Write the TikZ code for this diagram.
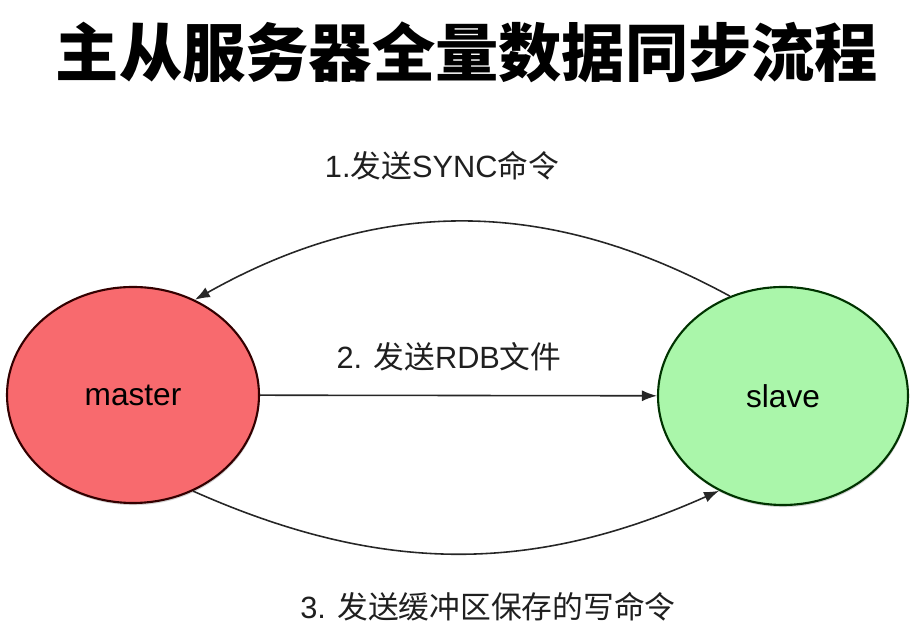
\documentclass[tikz,border=0pt]{standalone}
\usepackage{fontspec}
\setmainfont{Liberation Sans}
\newfontfamily\cjk{Noto Sans CJK SC}
\usetikzlibrary{arrows.meta, shapes.geometric, shadows}
\newcommand{\zh}[1]{{\cjk #1}}
\definecolor{masterred}{RGB}{248,106,110}
\definecolor{slavegreen}{RGB}{170,246,170}

\begin{document}
\begin{tikzpicture}
\useasboundingbox (0,0) rectangle (18.24,12.68);
\tikzset{server/.style={ellipse, draw, line width=1.2pt, inner sep=0pt,
    drop shadow={shadow xshift=0.4pt, shadow yshift=-1.2pt, opacity=0.35},
    font=\fontsize{18}{20}\selectfont},
  flow/.style={line width=0.9pt, black!85, -{Latex[length=3mm, width=2.2mm]}},
  steplabel/.style={font=\fontsize{17.5}{20}\selectfont, text=black!88}}

\node[] (title) at (9.34,11.64) {\fontsize{36}{40}\selectfont\cjk\bfseries 主从服务器全量数据同步流程};

\node[server, fill=masterred, draw=black!80!red, minimum width=5.04cm, minimum height=4.32cm] (master) at (2.66,4.78) {master};
\node[server, fill=slavegreen, draw=black!80!green, minimum width=5.0cm, minimum height=4.36cm] (slave) at (15.66,4.76) {slave};

\draw[flow] (slave.118) to[bend right=29] (master.57); %sync
\draw[flow] (master) -- (slave); %rdb
\draw[flow] (master.-58) to[bend right=24] (slave.236); %buffer

\node[steplabel] (sync) at (8.84,9.36) {1.\zh{发送}SYNC\zh{命令}};
\node[steplabel] (rdb) at (8.98,5.54) {2. \zh{发送}RDB\zh{文件}};
\node[steplabel] (buffer) at (9.76,0.54) {3. \zh{发送缓冲区保存的写命令}};
\end{tikzpicture}
\end{document}
